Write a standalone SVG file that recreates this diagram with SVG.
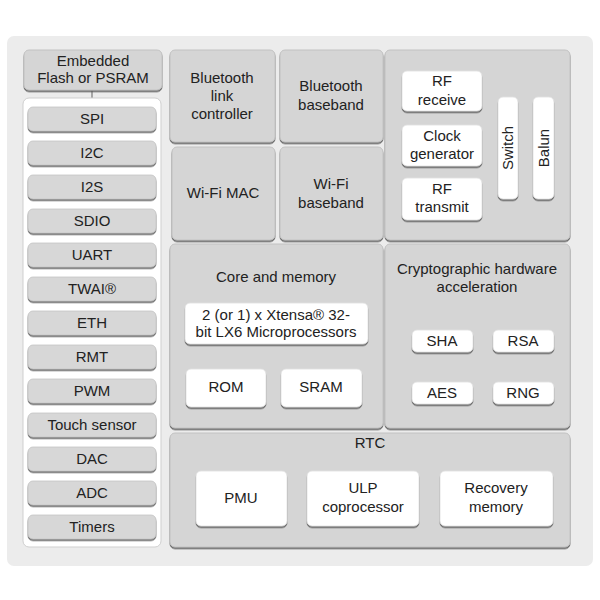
<svg xmlns="http://www.w3.org/2000/svg" width="600" height="600" viewBox="0 0 600 600">
<defs>
<filter id="sh" x="-10%" y="-10%" width="120%" height="130%">
<feDropShadow dx="0" dy="1.6" stdDeviation="0.7" flood-color="#555" flood-opacity="0.9"/>
</filter>
<style>
.blk{fill:#d5d5d5;stroke:#c2c2c2;stroke-width:1;filter:url(#sh)}
.wb{fill:#ffffff;stroke:#e0e0e0;stroke-width:0.8;filter:url(#sh)}
.pb{fill:#d7d7d7;stroke:#c4c4c4;stroke-width:0.8;filter:url(#sh)}
text{font-family:"Liberation Sans",Arial,sans-serif;font-size:15px;fill:#222;text-anchor:middle}
.conn{stroke:#777;stroke-width:1.2;fill:none}
</style>
</defs>
<rect x="7" y="36" width="586" height="530" rx="7" fill="#ececec"/>

<g id="connectors">
<line class="conn" x1="92" y1="90" x2="92" y2="107"/>
</g>

<g id="flash">
<rect class="blk" x="24" y="50" width="138" height="40" rx="5"/>
<text x="93" y="66">Embedded</text>
<text x="93" y="83">Flash or PSRAM</text>
</g>

<g id="peripherals">
<rect x="23" y="98" width="138" height="449" rx="6" fill="#ffffff" stroke="#cfcfcf" stroke-width="1"/>
<g id="spi"><rect class="pb" x="28" y="107" width="128" height="24" rx="5"/><text x="92" y="124">SPI</text></g>
<g id="i2c"><rect class="pb" x="28" y="141" width="128" height="24" rx="5"/><text x="92" y="158">I2C</text></g>
<g id="i2s"><rect class="pb" x="28" y="175" width="128" height="24" rx="5"/><text x="92" y="192">I2S</text></g>
<g id="sdio"><rect class="pb" x="28" y="209" width="128" height="24" rx="5"/><text x="92" y="226">SDIO</text></g>
<g id="uart"><rect class="pb" x="28" y="243" width="128" height="24" rx="5"/><text x="92" y="260">UART</text></g>
<g id="twai"><rect class="pb" x="28" y="277" width="128" height="24" rx="5"/><text x="92" y="294">TWAI®</text></g>
<g id="eth"><rect class="pb" x="28" y="311" width="128" height="24" rx="5"/><text x="92" y="328">ETH</text></g>
<g id="rmt"><rect class="pb" x="28" y="345" width="128" height="24" rx="5"/><text x="92" y="362">RMT</text></g>
<g id="pwm"><rect class="pb" x="28" y="379" width="128" height="24" rx="5"/><text x="92" y="396">PWM</text></g>
<g id="touch"><rect class="pb" x="28" y="413" width="128" height="24" rx="5"/><text x="92" y="430">Touch sensor</text></g>
<g id="dac"><rect class="pb" x="28" y="447" width="128" height="24" rx="5"/><text x="92" y="464">DAC</text></g>
<g id="adc"><rect class="pb" x="28" y="481" width="128" height="24" rx="5"/><text x="92" y="498">ADC</text></g>
<g id="timers"><rect class="pb" x="28" y="515" width="128" height="24" rx="5"/><text x="92" y="532">Timers</text></g>
</g>

<g id="bt-link">
<rect class="blk" x="170" y="50" width="105" height="92" rx="5"/>
<text x="222" y="83">Bluetooth</text>
<text x="222" y="101">link</text>
<text x="222" y="119">controller</text>
</g>
<g id="bt-baseband">
<rect class="blk" x="280" y="50" width="103" height="92" rx="5"/>
<text x="331" y="91">Bluetooth</text>
<text x="331" y="110">baseband</text>
</g>
<g id="wifi-mac">
<rect class="blk" x="172" y="147" width="103" height="93" rx="5"/>
<text x="223" y="198">Wi-Fi MAC</text>
</g>
<g id="wifi-baseband">
<rect class="blk" x="280" y="147" width="103" height="93" rx="5"/>
<text x="331" y="189">Wi-Fi</text>
<text x="331" y="208">baseband</text>
</g>

<g id="rf">
<rect class="blk" x="385" y="50" width="185" height="190" rx="5"/>
<g id="rf-receive"><rect class="wb" x="402" y="71" width="80" height="40" rx="5"/><text x="442" y="86">RF</text><text x="442" y="105">receive</text></g>
<g id="clock-gen"><rect class="wb" x="402" y="125" width="80" height="41" rx="5"/><text x="442" y="141">Clock</text><text x="442" y="159">generator</text></g>
<g id="rf-transmit"><rect class="wb" x="402" y="178" width="80" height="42" rx="5"/><text x="442" y="194">RF</text><text x="442" y="212">transmit</text></g>
<g id="switch"><rect class="wb" x="498" y="97" width="20" height="102" rx="5"/><text transform="translate(513 148) rotate(-90)">Switch</text></g>
<g id="balun"><rect class="wb" x="533" y="97" width="21" height="102" rx="5"/><text transform="translate(549 148) rotate(-90)">Balun</text></g>
</g>

<g id="core">
<rect class="blk" x="170" y="244" width="213" height="184" rx="5"/>
<text x="276" y="282">Core and memory</text>
<g id="xtensa"><rect class="wb" x="185" y="303" width="183" height="41" rx="5"/><text x="276" y="320">2 (or 1) x Xtensa® 32-</text><text x="276" y="337">bit LX6 Microprocessors</text></g>
<g id="rom"><rect class="wb" x="186" y="369" width="80" height="38" rx="5"/><text x="226" y="392">ROM</text></g>
<g id="sram"><rect class="wb" x="281" y="369" width="81" height="38" rx="5"/><text x="321" y="392">SRAM</text></g>
</g>

<g id="crypto">
<rect class="blk" x="385" y="244" width="185" height="184" rx="5"/>
<text x="477" y="274">Cryptographic hardware</text>
<text x="477" y="292">acceleration</text>
<g id="sha"><rect class="wb" x="412" y="330" width="61" height="22" rx="5"/><text x="442" y="346">SHA</text></g>
<g id="rsa"><rect class="wb" x="493" y="330" width="61" height="22" rx="5"/><text x="523" y="346">RSA</text></g>
<g id="aes"><rect class="wb" x="412" y="382" width="61" height="22" rx="5"/><text x="442" y="398">AES</text></g>
<g id="rng"><rect class="wb" x="493" y="382" width="61" height="22" rx="5"/><text x="523" y="398">RNG</text></g>
</g>

<g id="rtc">
<rect class="blk" x="170" y="433" width="400" height="114" rx="5"/>
<text x="370" y="448">RTC</text>
<g id="pmu"><rect class="wb" x="196" y="471" width="91" height="55" rx="5"/><text x="241" y="503">PMU</text></g>
<g id="ulp"><rect class="wb" x="307" y="471" width="112" height="55" rx="5"/><text x="363" y="493">ULP</text><text x="363" y="512">coprocessor</text></g>
<g id="recovery"><rect class="wb" x="440" y="471" width="113" height="55" rx="5"/><text x="496" y="493">Recovery</text><text x="496" y="512">memory</text></g>
</g>
</svg>
